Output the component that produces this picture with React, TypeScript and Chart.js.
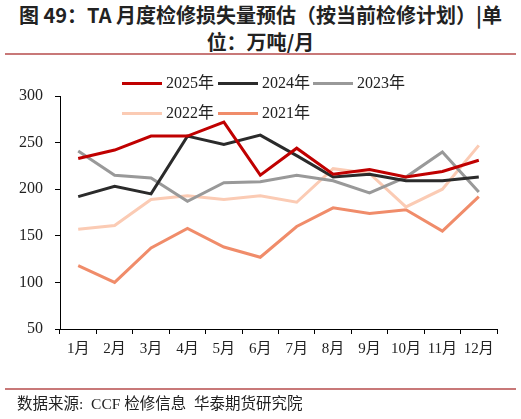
import React, { useEffect, useRef } from "react";
import { Chart, registerables } from "chart.js";

Chart.register(...registerables);

const months = ["1月", "2月", "3月", "4月", "5月", "6月", "7月", "8月", "9月", "10月", "11月", "12月"];
const y2025 = [233, 242, 257, 257, 272, 215, 244, 216, 221, 213, 219, 231];
const y2024 = [192, 203, 195, 257, 248, 258, 236, 213, 216, 209, 209, 213];
const y2023 = [241, 215, 212, 187, 207, 208, 215, 209, 196, 213, 240, 197];
const y2022 = [157, 161, 189, 193, 189, 193, 186, 222, 217, 181, 200, 247];
const y2021 = [118, 100, 137, 158, 138, 127, 160, 180, 174, 178, 155, 192];

const seriesNames = ["2025年", "2024年", "2023年", "2022年", "2021年"];
const seriesColors = ["#C00000", "#2B2B2B", "#999999", "#FBCBB4", "#F08C6A"];
const seriesData = [y2025, y2024, y2023, y2022, y2021];

const serif = "'Liberation Serif', 'Noto Sans CJK SC', serif";

export default function App() {
  const ref = useRef<HTMLCanvasElement | null>(null);

  useEffect(() => {
    if (!ref.current) return;
    const chart = new Chart(ref.current, {
      type: "line",
      data: {
        labels: months,
        datasets: seriesData.map((d, i) => ({
          label: seriesNames[i],
          data: d,
          borderColor: seriesColors[i],
          backgroundColor: seriesColors[i],
          borderWidth: 3,
          pointRadius: 0,
          tension: 0,
          fill: false,
        })),
      },
      options: {
        animation: false,
        responsive: false,
        maintainAspectRatio: false,
        layout: { padding: { left: 0, top: 96, right: 24, bottom: 50 } },
        plugins: { legend: { display: false }, tooltip: { enabled: false } },
        scales: {
          x: {
            offset: true,
            grid: {
              offset: true,
              drawOnChartArea: false,
              drawTicks: true,
              tickLength: 5,
              color: "#000",
            },
            border: { display: true, color: "#000", width: 1 },
            ticks: { color: "#222", font: { family: serif, size: 15 }, padding: 6, maxRotation: 0, autoSkip: false },
            afterFit: (s: any) => {
              s.height = 40;
            },
          },
          y: {
            min: 50,
            max: 300,
            ticks: { stepSize: 50, color: "#222", font: { family: serif, size: 16 }, padding: 12 },
            grid: { drawOnChartArea: false, drawTicks: true, tickLength: 5, color: "#000" },
            border: { display: true, color: "#000", width: 1 },
            afterFit: (s: any) => {
              s.width = 60;
            },
          },
        },
      },
    });
    return () => chart.destroy();
  }, []);

  const legendItem = (i: number, x: number, y: number, lineW: number) => (
    <div key={i} style={{ position: "absolute", left: x, top: y - 10, height: 20, display: "flex", alignItems: "center" }}>
      <div style={{ width: lineW, height: 3, background: seriesColors[i], marginRight: 4 }} />
      <span style={{ fontFamily: serif, fontSize: 16, color: "#222", lineHeight: "20px" }}>{seriesNames[i]}</span>
    </div>
  );

  return (
    <div style={{ position: "absolute", left: 0, top: 0, width: 521, height: 419, background: "#fff", overflow: "hidden" }}>
      <div
        style={{
          position: "absolute",
          left: 0,
          top: 1,
          width: 521,
          textAlign: "center",
          fontFamily: "'Noto Sans CJK SC', sans-serif",
          fontWeight: 700,
          fontSize: 20,
          lineHeight: "27px",
          color: "#222",
          whiteSpace: "nowrap",
        }}
      >
        图 49：TA 月度检修损失量预估（按当前检修计划）|单
        <br />
        位：万吨/月
      </div>
      <div style={{ position: "absolute", left: 5, top: 53, width: 511, height: 2, background: "#C87878" }} />
      <canvas ref={ref} width={521} height={419} style={{ position: "absolute", left: 0, top: 0, width: 521, height: 419 }} />
      {legendItem(0, 122, 83, 40)}
      {legendItem(1, 218, 83, 40)}
      {legendItem(2, 313, 83, 40)}
      {legendItem(3, 122, 113, 40)}
      {legendItem(4, 218, 113, 40)}
      <div style={{ position: "absolute", left: 5, top: 388, width: 511, height: 2, background: "#C87878" }} />
      <div
        style={{
          position: "absolute",
          left: 17,
          top: 395,
          fontFamily: "'Liberation Serif', 'Noto Sans CJK SC', serif",
          fontSize: 15.5,
          lineHeight: "18px",
          color: "#222",
          whiteSpace: "pre",
        }}
      >
        数据来源:  CCF 检修信息  华泰期货研究院
      </div>
    </div>
  );
}
